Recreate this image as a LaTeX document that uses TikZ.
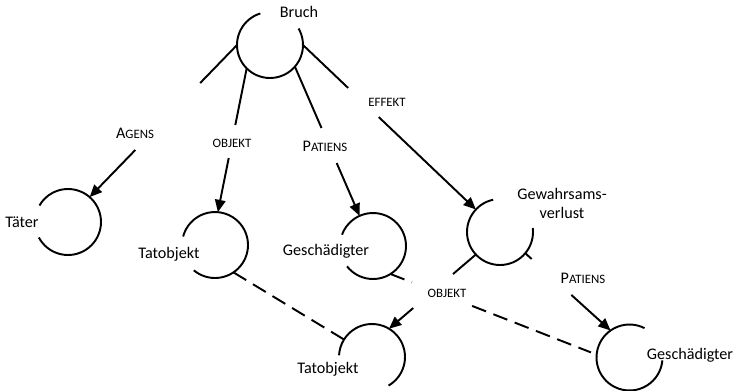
\documentclass[tikz,border=0pt]{standalone}
\usepackage{fontspec}
\setmainfont{Carlito}
\usetikzlibrary{arrows.meta,calc}
\newcommand{\mysc}[1]{{\fontsize{7.3}{9}\selectfont #1}}
\begin{document}
\begin{tikzpicture}[x=0.02cm,y=-0.02cm,
  ring/.style={circle,minimum size=1.32cm,inner sep=0pt,outer sep=0pt},
  txt/.style={font=\fontsize{9.2}{10.8}\selectfont,inner sep=1pt,align=center},
  rel/.style={font=\fontsize{9.2}{10.8}\selectfont,inner sep=1pt},
  conn/.style={line width=1.1pt},
  tip/.style={-{Triangle[length=7pt,width=6pt]}},
  dsh/.style={line width=1.1pt,dash pattern=on 8.5pt off 4.5pt}
]
\useasboundingbox (0,0) rectangle (733,390);

% circles (as nodes)
\node[ring] (bruch) at (270,45) {};
\node[ring] (tater) at (68,222) {};
\node[ring] (tat1) at (215,245) {};
\node[ring] (ges1) at (373,246) {};
\node[ring] (gew) at (500,232) {};
\node[ring] (tat2) at (372,357) {};
\node[ring] (ges2) at (629.5,357.5) {};

% open rings
\draw[conn] (bruch.107) arc[start angle=107,end angle=390,radius=0.66cm];
\draw[conn] (tater.208) arc[start angle=208,end angle=510,radius=0.66cm];
\draw[conn] (tat1.230) arc[start angle=230,end angle=525,radius=0.66cm];
\draw[conn] (ges1.218) arc[start angle=218,end angle=520,radius=0.66cm];
\draw[conn] (gew.102) arc[start angle=102,end angle=367,radius=0.66cm];
\draw[conn] (tat2.300) arc[start angle=300,end angle=537,radius=0.66cm];
\draw[conn] (ges2.63) arc[start angle=63,end angle=355,radius=0.66cm];

% node texts
\node[txt] (tBruch) at (299,12) {Bruch};
\node[txt] (tTater) at (22,222) {Täter};
\node[txt] (tTat1) at (169,254) {Tatobjekt};
\node[txt] (tGes1) at (326,251) {Geschädigter};
\node[txt] (tGew) at (562,203) {Gewahrsams-\\verlust};
\node[txt] (tTat2) at (328,369) {Tatobjekt};
\node[txt] (tGes2) at (690,355) {Geschädigter};

% relation labels
\node[rel] (lAgens) at (135,133) {A\mysc{GENS}};
\node[rel] (lObj1) at (232,143) {\mysc{OBJEKT}};
\node[rel] (lPat1) at (325,146) {P\mysc{ATIENS}};
\node[rel] (lEff) at (387,102) {\mysc{EFFEKT}};
\node[rel] (lObj2) at (447,293) {\mysc{OBJEKT}};
\node[rel] (lPat2) at (583,278) {P\mysc{ATIENS}};

% connectors (with gaps for the labels)
\draw[conn] (bruch.180) -- ($(bruch.180)!0.25!(tater.49)$);
\draw[conn,tip] ($(bruch.180)!0.69!(tater.49)$) -- (tater.49);

\draw[conn] (bruch.225) -- ($(bruch.225)!0.394!(tat1.85)$);
\draw[conn,tip] ($(bruch.225)!0.624!(tat1.85)$) -- (tat1.85);

\draw[conn] (bruch.-41) -- ($(bruch.-41)!0.411!(ges1.114)$);
\draw[conn,tip] ($(bruch.-41)!0.646!(ges1.114)$) -- (ges1.114);

\draw[conn] (bruch.0) -- ($(bruch.0)!0.261!(gew.137)$);
\draw[conn,tip] ($(bruch.0)!0.438!(gew.137)$) -- (gew.137);

\draw[conn] (gew.223) -- ($(gew.223)!0.263!(tat2.59)$);
\draw[conn,tip] ($(gew.223)!0.721!(tat2.59)$) -- (tat2.59);

\draw[conn] (gew.-40) -- ($(gew.-40)!0.075!(ges2.125)$);
\draw[conn,tip] ($(gew.-40)!0.54!(ges2.125)$) -- (ges2.125);

% dashed identity links
\draw[dsh] (tat1.-56) -- (tat2.148);
\draw[dsh] (ges1.-58) -- ($(ges1.-58)!0.104!(ges2.175)$);
\draw[dsh,shorten >=3.5pt] ($(ges1.-58)!0.396!(ges2.175)$) -- (ges2.175);
\end{tikzpicture}
\end{document}
